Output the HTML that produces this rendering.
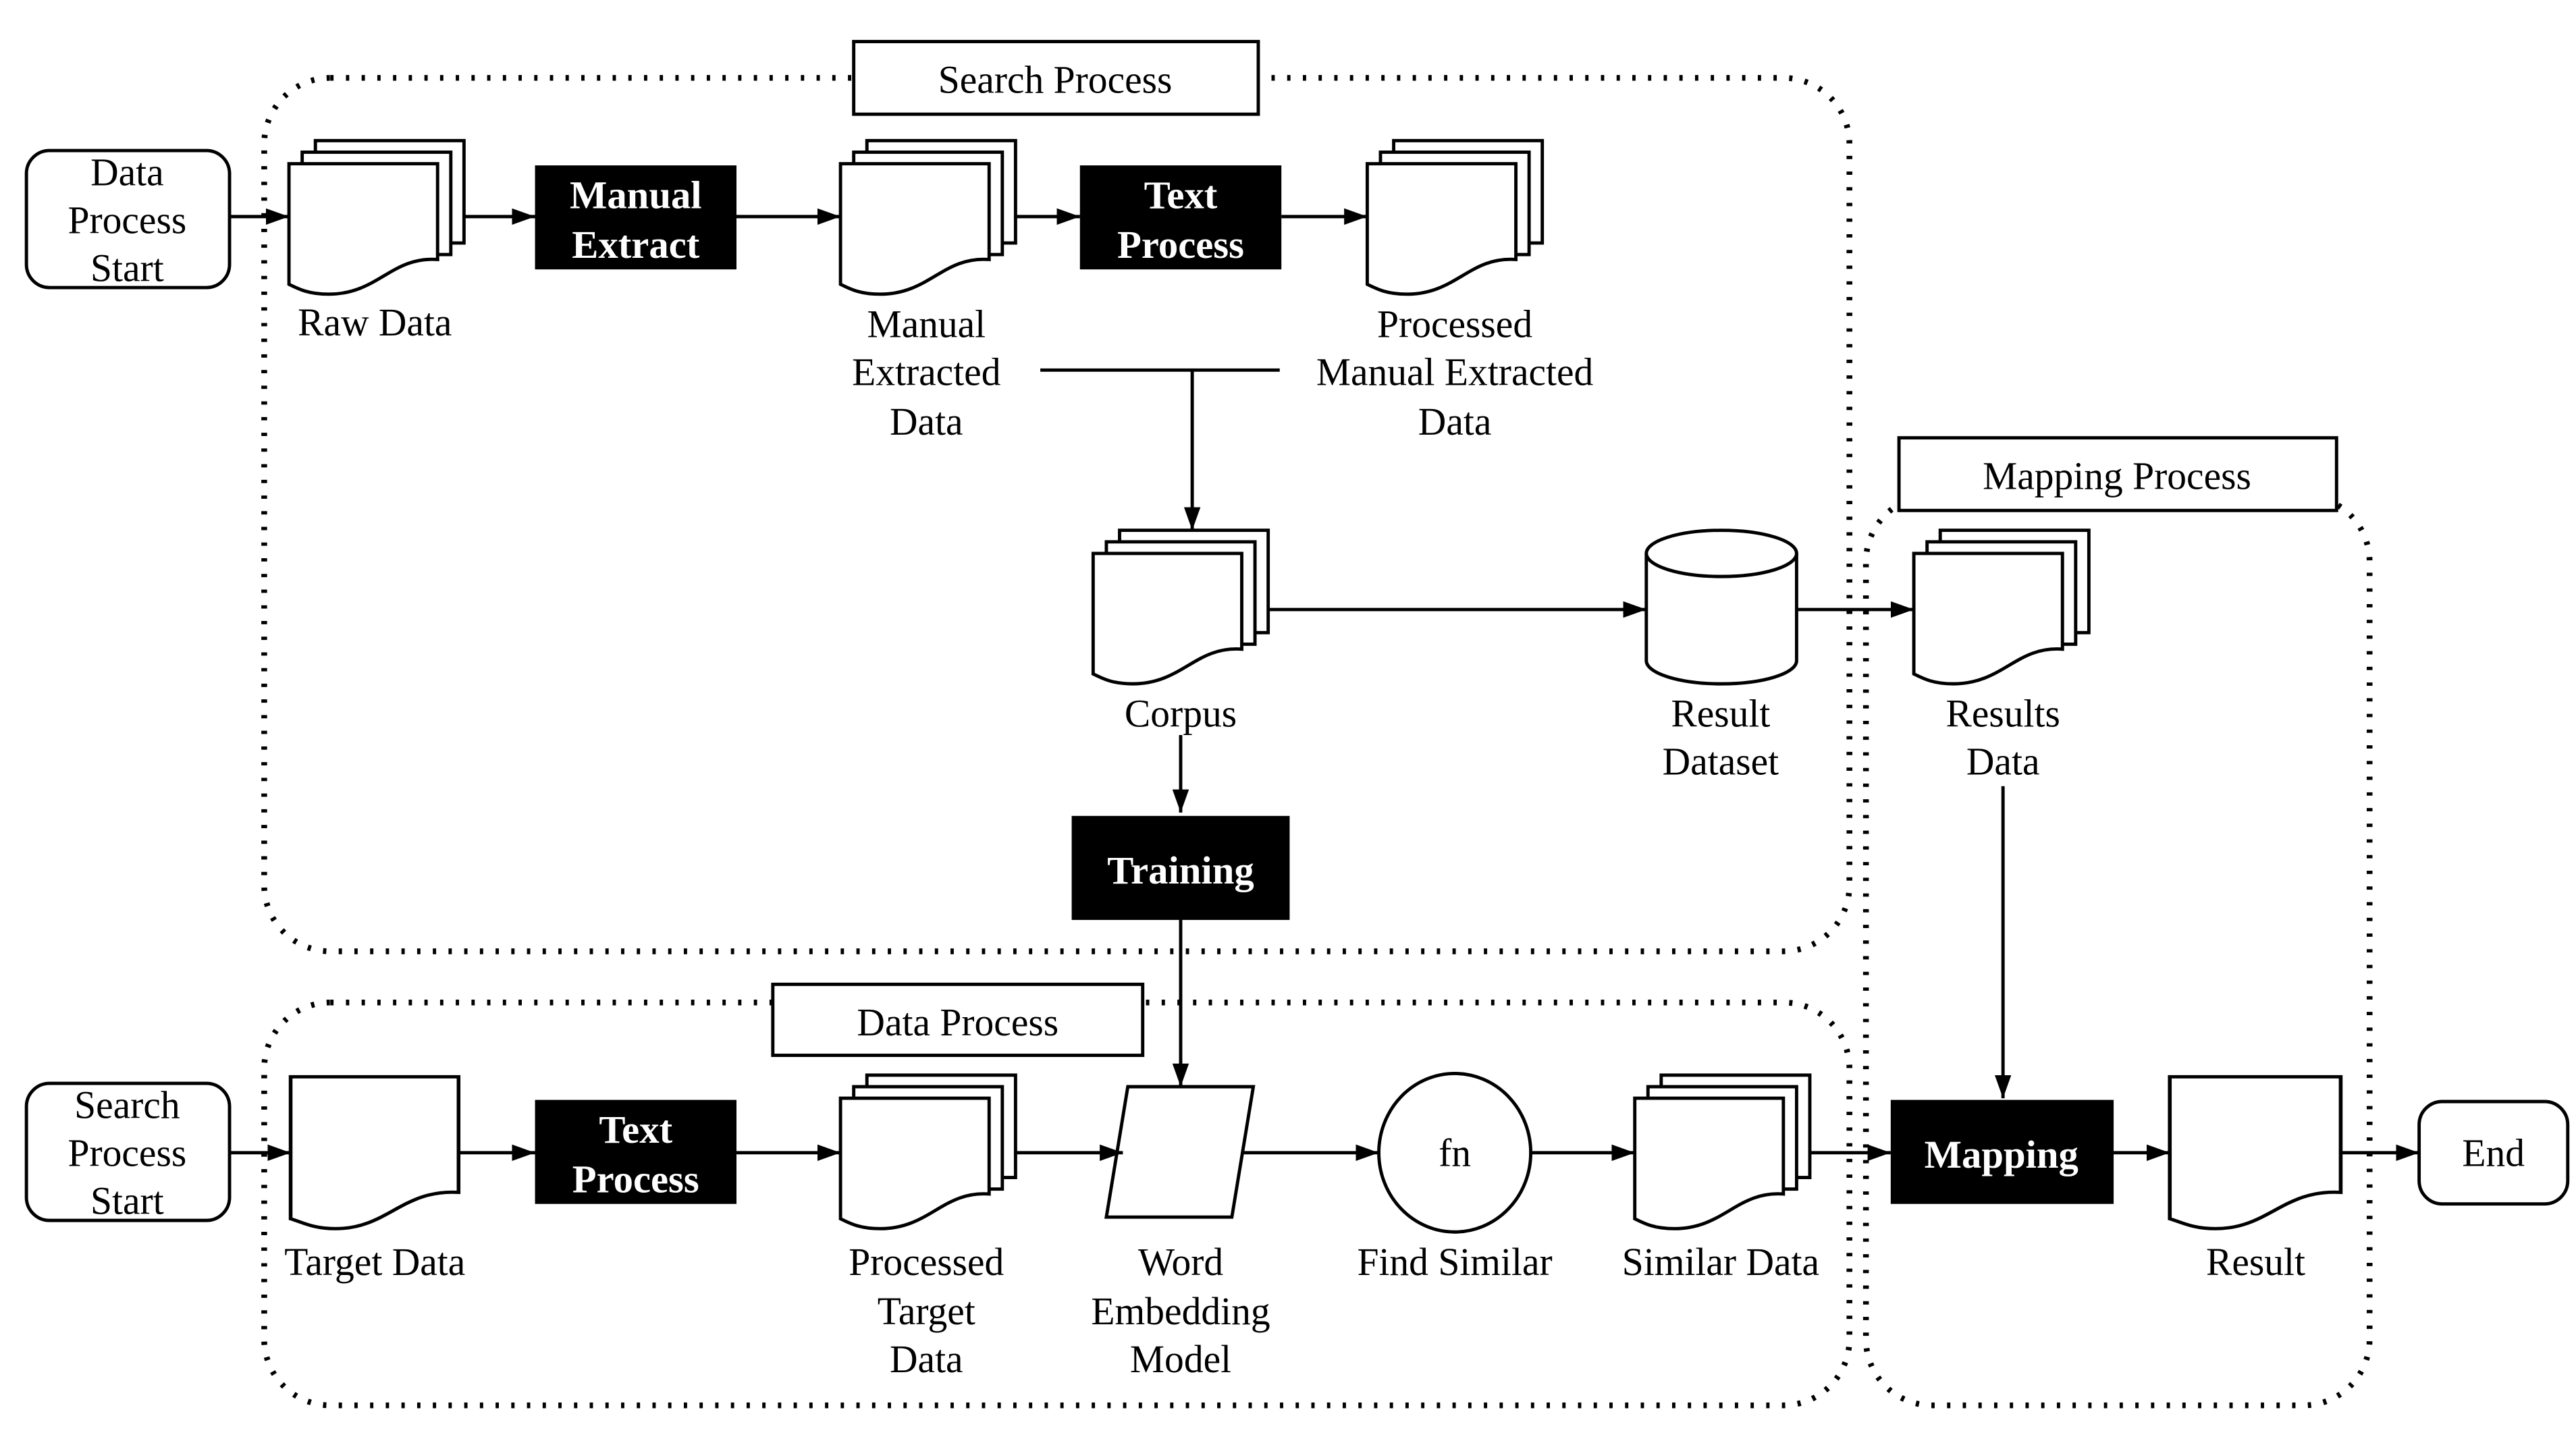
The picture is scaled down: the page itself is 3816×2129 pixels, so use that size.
<!DOCTYPE html>
<html><head><meta charset="utf-8"><style>
html,body{margin:0;padding:0;background:#fff;}
svg{display:block;}
text{font-family:"Liberation Serif","DejaVu Serif",serif;font-size:24px;text-anchor:middle;fill:#000;}
.w{fill:#fff;font-weight:bold;}
</style></head><body>
<svg width="3816" height="2129" viewBox="0 0 1560 870" xmlns="http://www.w3.org/2000/svg" font-family="Liberation Serif, serif">
<defs>
<marker id="a" viewBox="0 0 14 10" refX="14" refY="5" markerWidth="14" markerHeight="10" markerUnits="userSpaceOnUse" orient="auto"><path d="M0,0L14,5L0,10z" fill="#000"/></marker>
<g id="doc"><path d="M0,0H90V70C60,68 52,92 24,92C12,92 6,88 0,86Z" fill="#fff" stroke="#000" stroke-width="2"/></g>
<g id="mdoc">
<rect x="16" y="0" width="90" height="62" fill="#fff" stroke="#000" stroke-width="2"/>
<rect x="8" y="7" width="90" height="62" fill="#fff" stroke="#000" stroke-width="2"/>
<path d="M0,14H90V72C62,70 54,93 24,93C12,93 6,90 0,87Z" fill="#fff" stroke="#000" stroke-width="2"/>
</g>
</defs>
<rect width="1560" height="870" fill="#fff"/>
<g fill="none" stroke="#000" stroke-width="3.5" stroke-dasharray="2 7.5">
<rect x="160" y="47" width="960" height="529" rx="40"/>
<rect x="160" y="607" width="960" height="244" rx="40"/>
<rect x="1130" y="300" width="305" height="551" rx="40"/>
</g>
<g fill="#fff" stroke="#000" stroke-width="2">
<rect x="517" y="25" width="245" height="44"/>
<rect x="468" y="596" width="224" height="43"/>
<rect x="1150" y="265" width="265" height="44"/>
<rect x="16" y="91" width="123" height="83" rx="14"/>
<rect x="16" y="656" width="123" height="83" rx="14"/>
<rect x="1465" y="667" width="90" height="62" rx="14"/>
<path d="M683,658H759L746,737H670Z"/>
<ellipse cx="881" cy="698" rx="46" ry="48"/>
<path d="M997,335V400A45.5,14 0 0 0 1088,400V335"/>
<ellipse cx="1042.5" cy="335" rx="45.5" ry="14"/>
</g>
<g fill="#000">
<rect x="324" y="100" width="122" height="63"/>
<rect x="654" y="100" width="122" height="63"/>
<rect x="649" y="494" width="132" height="63"/>
<rect x="324" y="666" width="122" height="63"/>
<rect x="1145" y="666" width="135" height="63"/>
</g>
<use href="#mdoc" x="175" y="85"/>
<use href="#mdoc" x="509" y="85"/>
<use href="#mdoc" x="828" y="85"/>
<use href="#mdoc" x="662" y="321"/>
<use href="#mdoc" x="1159" y="321"/>
<use href="#mdoc" x="509" y="651"/>
<use href="#mdoc" x="990" y="651"/>
<use href="#doc" x="176" y="652" transform="translate(176 652) scale(1.13 1) translate(-176 -652)"/>
<use href="#doc" x="1314" y="652" transform="translate(1314 652) scale(1.15 1) translate(-1314 -652)"/>
<g stroke="#000" stroke-width="2" fill="none" marker-end="url(#a)">
<path d="M139,131H175"/>
<path d="M281,131H324"/>
<path d="M446,131H509"/>
<path d="M614,131H654"/>
<path d="M776,131H828"/>
<path d="M722,224V321"/>
<path d="M768,369H997"/>
<path d="M1088,369H1159"/>
<path d="M715,445V492"/>
<path d="M715,557V658"/>
<path d="M1213,476V665"/>
<path d="M139,698H176"/>
<path d="M278,698H324"/>
<path d="M446,698H509"/>
<path d="M614,698H680"/>
<path d="M753,698H835"/>
<path d="M927,698H990"/>
<path d="M1096,698H1145"/>
<path d="M1280,698H1314"/>
<path d="M1418,698H1465"/>
</g>
<path d="M630,224H775" stroke="#000" stroke-width="2"/>
<g>
<text transform="translate(639 56) scale(.98 1)">Search Process</text>
<text transform="translate(580 627) scale(.98 1)">Data Process</text>
<text transform="translate(1282 296) scale(.98 1)">Mapping Process</text>
<text transform="translate(77 112) scale(.98 1)">Data</text>
<text transform="translate(77 141) scale(.98 1)">Process</text>
<text transform="translate(77 170) scale(.98 1)">Start</text>
<text transform="translate(77 677) scale(.98 1)">Search</text>
<text transform="translate(77 706) scale(.98 1)">Process</text>
<text transform="translate(77 735) scale(.98 1)">Start</text>
<text transform="translate(1510 706) scale(.98 1)">End</text>
<text transform="translate(227 203) scale(.98 1)">Raw Data</text>
<text transform="translate(561 204) scale(.98 1)">Manual</text>
<text transform="translate(561 233) scale(.98 1)">Extracted</text>
<text transform="translate(561 263) scale(.98 1)">Data</text>
<text transform="translate(881 204) scale(.98 1)">Processed</text>
<text transform="translate(881 233) scale(.98 1)">Manual Extracted</text>
<text transform="translate(881 263) scale(.98 1)">Data</text>
<text transform="translate(715 440) scale(.98 1)">Corpus</text>
<text transform="translate(1042 440) scale(.98 1)">Result</text>
<text transform="translate(1042 469) scale(.98 1)">Dataset</text>
<text transform="translate(1213 440) scale(.98 1)">Results</text>
<text transform="translate(1213 469) scale(.98 1)">Data</text>
<text transform="translate(227 772) scale(.98 1)">Target Data</text>
<text transform="translate(561 772) scale(.98 1)">Processed</text>
<text transform="translate(561 802) scale(.98 1)">Target</text>
<text transform="translate(561 831) scale(.98 1)">Data</text>
<text transform="translate(715 772) scale(.98 1)">Word</text>
<text transform="translate(715 802) scale(.98 1)">Embedding</text>
<text transform="translate(715 831) scale(.98 1)">Model</text>
<text transform="translate(881 706) scale(.98 1)">fn</text>
<text transform="translate(881 772) scale(.98 1)">Find Similar</text>
<text transform="translate(1042 772) scale(.98 1)">Similar Data</text>
<text transform="translate(1366 772) scale(.98 1)">Result</text>
<text class="w" transform="translate(385 126)">Manual</text>
<text class="w" transform="translate(385 156)">Extract</text>
<text class="w" transform="translate(715 126)">Text</text>
<text class="w" transform="translate(715 156)">Process</text>
<text class="w" transform="translate(715 535)">Training</text>
<text class="w" transform="translate(385 692)">Text</text>
<text class="w" transform="translate(385 722)">Process</text>
<text class="w" transform="translate(1212 707)">Mapping</text>
</g>
</svg>
</body></html>
